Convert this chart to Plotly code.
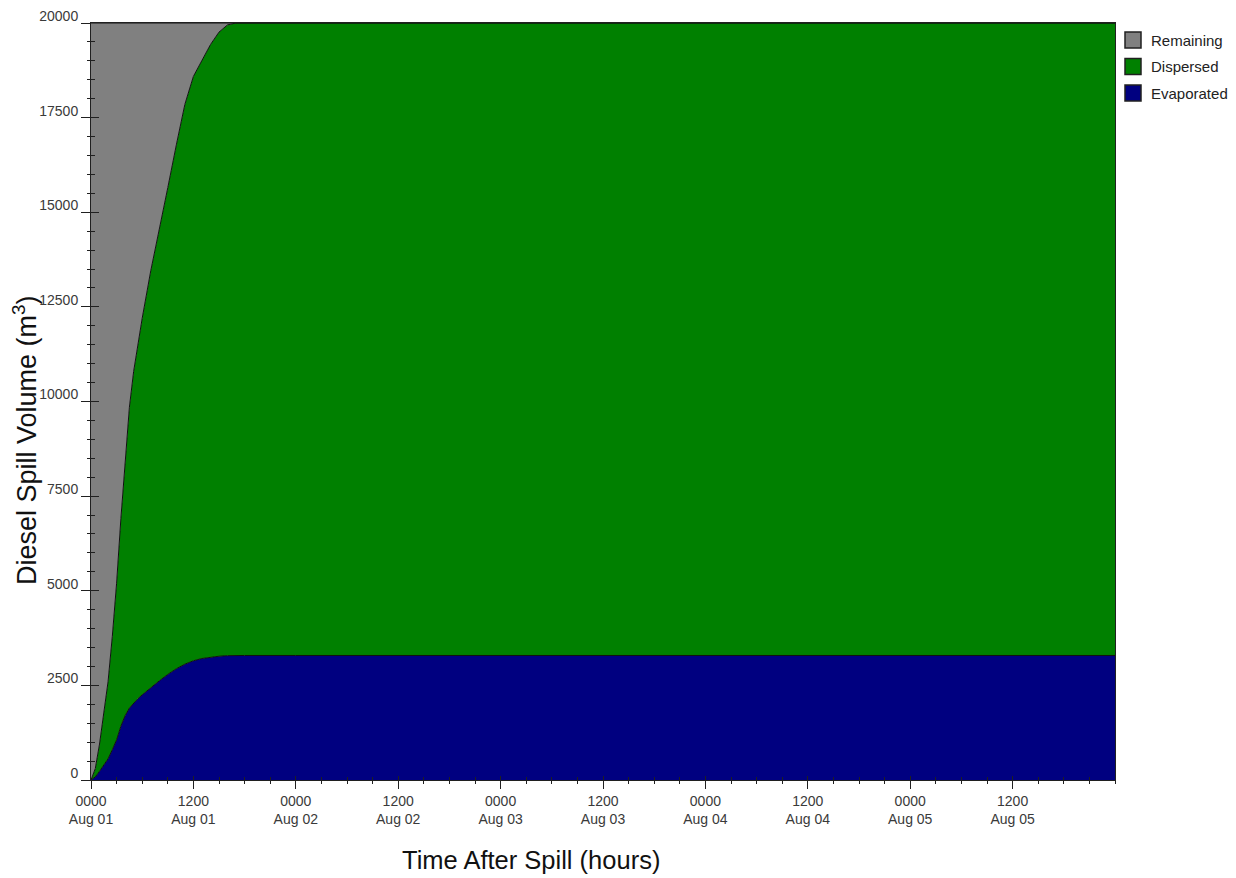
import plotly.graph_objects as go

# ---- data (hours after spill, volumes in m^3) ----
hours = [0, 0.5, 1, 1.5, 2, 2.5, 3, 3.5, 4, 4.5, 5, 5.5, 6, 7, 8, 9, 10, 11, 12,
         13, 14, 15, 16, 17, 18, 24, 36, 48, 60, 72, 84, 96, 108, 120]
evaporated = [0, 80, 230, 400, 560, 800, 1060, 1420, 1700, 1900, 2030, 2150, 2250,
              2440, 2620, 2790, 2940, 3060, 3150, 3210, 3250, 3270, 3285, 3290, 3290,
              3290, 3290, 3290, 3290, 3290, 3290, 3290, 3290, 3290]
dispersed = [0, 220, 720, 1350, 2040, 3000, 4140, 5480, 6800, 7950, 8770, 9400, 9950,
             11010, 11980, 12860, 13840, 14790, 15440, 15820, 16180, 16490, 16665, 16710,
             16710, 16710, 16710, 16710, 16710, 16710, 16710, 16710, 16710, 16710]
remaining = [20000, 19700, 19050, 18250, 17400, 16200, 14800, 13100, 11500, 10150, 9200,
             8450, 7800, 6550, 5400, 4350, 3220, 2150, 1410, 970, 570, 240, 50, 0,
             0, 0, 0, 0, 0, 0, 0, 0, 0, 0]

series_names = ["Evaporated", "Dispersed", "Remaining"]
series_values = [evaporated, dispersed, remaining]
series_colors = ["#000080", "#008000", "#808080"]

tick_hours = [0, 12, 24, 36, 48, 60, 72, 84, 96, 108]
tick_labels = ["0000<br>Aug 01", "1200<br>Aug 01", "0000<br>Aug 02", "1200<br>Aug 02",
               "0000<br>Aug 03", "1200<br>Aug 03", "0000<br>Aug 04", "1200<br>Aug 04",
               "0000<br>Aug 05", "1200<br>Aug 05"]
y_ticks = [0, 2500, 5000, 7500, 10000, 12500, 15000, 17500, 20000]

fig = go.Figure()
for name, vals, col in zip(series_names, series_values, series_colors):
    fig.add_trace(go.Scatter(
        x=hours, y=vals, name=name, stackgroup="one", mode="lines",
        line=dict(color="#101010", width=1), fillcolor=col, showlegend=False,
        hoverinfo="x+y+name"))

# invisible trace for overlay axes (inside tick portions)
fig.add_trace(go.Scatter(x=[None], y=[None], xaxis="x2", yaxis="y2", showlegend=False))

FONT = "Liberation Sans, Arial, sans-serif"
tickfont = dict(family=FONT, size=14, color="#3a3a3a")

fig.update_layout(
    width=1228, height=870,
    margin=dict(l=83, r=121, t=15, b=98, autoexpand=False),
    paper_bgcolor="white", plot_bgcolor="white",
    xaxis=dict(range=[0, 120], tickmode="array", tickvals=tick_hours, ticktext=tick_labels,
               ticks="outside", ticklen=8, tickwidth=1, tickcolor="#202020",
               minor=dict(tickmode="linear", tick0=0, dtick=3, ticks="outside",
                          ticklen=3, tickwidth=1, tickcolor="#202020"),
               showline=True, linecolor="#202020", linewidth=1, mirror=True,
               showgrid=False, zeroline=False, tickfont=tickfont, ticklabelstandoff=0,
               automargin=False),
    yaxis=dict(range=[0, 20000], tickmode="array", tickvals=y_ticks,
               ticktext=[str(v) for v in y_ticks],
               ticks="outside", ticklen=9, tickwidth=1, tickcolor="#202020",
               minor=dict(tickmode="linear", tick0=0, dtick=500, ticks="outside",
                          ticklen=3, tickwidth=1, tickcolor="#202020"),
               showline=True, linecolor="#202020", linewidth=1, mirror=True,
               showgrid=False, zeroline=False, tickfont=tickfont,
               ticklabelshift=-7, ticklabelstandoff=0, ticklabeloverflow="allow",
               automargin=False),
    xaxis2=dict(range=[0, 120], overlaying="x", side="bottom", tickmode="array",
                tickvals=tick_hours, ticks="inside", ticklen=4, tickcolor="#202020",
                showticklabels=False, showgrid=False, zeroline=False, showline=False,
                minor=dict(tickmode="linear", tick0=0, dtick=3, ticks="inside",
                           ticklen=3, tickcolor="#202020")),
    yaxis2=dict(range=[0, 20000], overlaying="y", side="left", tickmode="array",
                tickvals=y_ticks, ticks="inside", ticklen=8, tickcolor="#202020",
                showticklabels=False, showgrid=False, zeroline=False, showline=False,
                minor=dict(tickmode="linear", tick0=0, dtick=500, ticks="inside",
                           ticklen=4, tickcolor="#202020")),
)

# axis titles as annotations (positioned like the reference)
fig.add_annotation(text="Diesel Spill Volume (m<sup>3</sup>)", xref="paper", yref="paper",
                   x=(25 - 91) / 1024, y=(780 - 440) / 757, textangle=-90, showarrow=False,
                   xanchor="center", yanchor="middle",
                   font=dict(family=FONT, size=27, color="#111"))
fig.add_annotation(text="Time After Spill (hours)", xref="paper", yref="paper",
                   x=(531 - 91) / 1024, y=(780 - 860) / 757, showarrow=False,
                   xanchor="center", yanchor="middle",
                   font=dict(family=FONT, size=25.5, color="#111"))

# manual legend
legend_names = ["Remaining", "Dispersed", "Evaporated"]
legend_colors = ["#808080", "#008000", "#000080"]
legend_y_px = [40, 66.5, 93]
for nm, col, ypx in zip(legend_names, legend_colors, legend_y_px):
    yc = (780 - ypx) / 757
    h = 8 / 757
    fig.add_shape(type="rect", xref="paper", yref="paper",
                  x0=(1125 - 91) / 1024, x1=(1141 - 91) / 1024, y0=yc - h, y1=yc + h,
                  fillcolor=col, line=dict(color="#202020", width=1.5))
    fig.add_annotation(text=nm, xref="paper", yref="paper", x=(1149 - 91) / 1024, y=yc,
                       xanchor="left", yanchor="middle", showarrow=False,
                       font=dict(family=FONT, size=15, color="#222"))

fig.write_html("out.html")
